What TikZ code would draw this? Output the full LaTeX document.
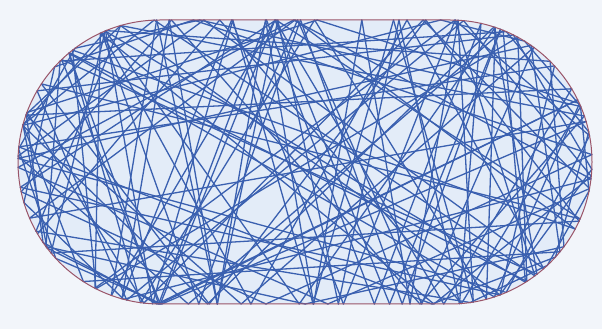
\documentclass[tikz,border=0pt]{standalone}
\definecolor{bgcol}{HTML}{F2F5FA}
\definecolor{incol}{HTML}{E3ECF8}
\definecolor{trajcol}{HTML}{3A60B0}
\definecolor{edgecol}{HTML}{9A5468}
\tikzset{
  traj/.style={draw=trajcol, line width=1.3pt, line cap=round},
  rim/.style={draw=edgecol, line width=1pt},
}
\def\R{142}\def\CL{160}\def\CR{450}\def\CY{167}\def\YT{309}\def\YB{25}
\begin{document}
\begin{tikzpicture}[x=1pt,y=1pt]
\fill[bgcol] (0,0) rectangle (602,329);
\useasboundingbox (0,0) rectangle (602,329);
\fill[incol] (\CL,\YB) -- (\CR,\YB) arc(-90:90:\R) -- (\CL,\YT) arc(90:270:\R) -- cycle;
\xdef\bX{250}\xdef\bY{200}
\xdef\bU{\fpeval{cosd(66.4)}}\xdef\bV{\fpeval{sind(66.4)}}
\foreach \i in {1,...,160}{
  % top wall
  \xdef\tT{\fpeval{(\bV)>1e-9 ? (\YT-(\bY))/max((\bV),1e-9) : 1e9}}
  \xdef\tT{\fpeval{((\tT)>1e-6 && (\bX)+(\tT)*(\bU)>=\CL && (\bX)+(\tT)*(\bU)<=\CR) ? (\tT) : 1e9}}
  % bottom wall
  \xdef\tB{\fpeval{(\bV)<-1e-9 ? (\YB-(\bY))/min((\bV),-1e-9) : 1e9}}
  \xdef\tB{\fpeval{((\tB)>1e-6 && (\bX)+(\tB)*(\bU)>=\CL && (\bX)+(\tB)*(\bU)<=\CR) ? (\tB) : 1e9}}
  % left circle
  \xdef\bb{\fpeval{((\bX)-\CL)*(\bU)+((\bY)-\CY)*(\bV)}}
  \xdef\cc{\fpeval{((\bX)-\CL)^2+((\bY)-\CY)^2-\R^2}}
  \xdef\dsc{\fpeval{(\bb)^2-(\cc)}}
  \xdef\tL{\fpeval{(\dsc)>0 ? -(\bb)+sqrt(max((\dsc),0)) : 1e9}}
  \xdef\tL{\fpeval{((\tL)>1e-6 && (\bX)+(\tL)*(\bU)<=\CL+1e-6) ? (\tL) : 1e9}}
  % right circle
  \xdef\bb{\fpeval{((\bX)-\CR)*(\bU)+((\bY)-\CY)*(\bV)}}
  \xdef\cc{\fpeval{((\bX)-\CR)^2+((\bY)-\CY)^2-\R^2}}
  \xdef\dsc{\fpeval{(\bb)^2-(\cc)}}
  \xdef\tR{\fpeval{(\dsc)>0 ? -(\bb)+sqrt(max((\dsc),0)) : 1e9}}
  \xdef\tR{\fpeval{((\tR)>1e-6 && (\bX)+(\tR)*(\bU)>=\CR-1e-6) ? (\tR) : 1e9}}
  \xdef\tmin{\fpeval{min((\tT),(\tB),(\tL),(\tR))}}
  \xdef\Xo{\bX}\xdef\Yo{\bY}
  \xdef\bX{\fpeval{(\Xo)+(\tmin)*(\bU)}}\xdef\bY{\fpeval{(\Yo)+(\tmin)*(\bV)}}
  \draw[traj] (\fpeval{round((\Xo),3)},\fpeval{round((\Yo),3)}) -- (\fpeval{round((\bX),3)},\fpeval{round((\bY),3)});
  \xdef\nx{\fpeval{(\bX)<\CL ? ((\bX)-\CL)/\R : ((\bX)>\CR ? ((\bX)-\CR)/\R : 0)}}
  \xdef\ny{\fpeval{((\bX)<\CL || (\bX)>\CR) ? ((\bY)-\CY)/\R : ((\bY)>\CY ? 1 : -1)}}
  \xdef\dn{\fpeval{(\bU)*(\nx)+(\bV)*(\ny)}}
  \xdef\Un{\fpeval{(\bU)-2*(\dn)*(\nx)}}\xdef\Vn{\fpeval{(\bV)-2*(\dn)*(\ny)}}
  \xdef\nn{\fpeval{sqrt((\Un)^2+(\Vn)^2)}}
  \xdef\bU{\fpeval{(\Un)/(\nn)}}\xdef\bV{\fpeval{(\Vn)/(\nn)}}
}
\draw[rim] (\CL,\YB) -- (\CR,\YB) arc(-90:90:\R) -- (\CL,\YT) arc(90:270:\R) -- cycle;
\end{tikzpicture}
\end{document}
